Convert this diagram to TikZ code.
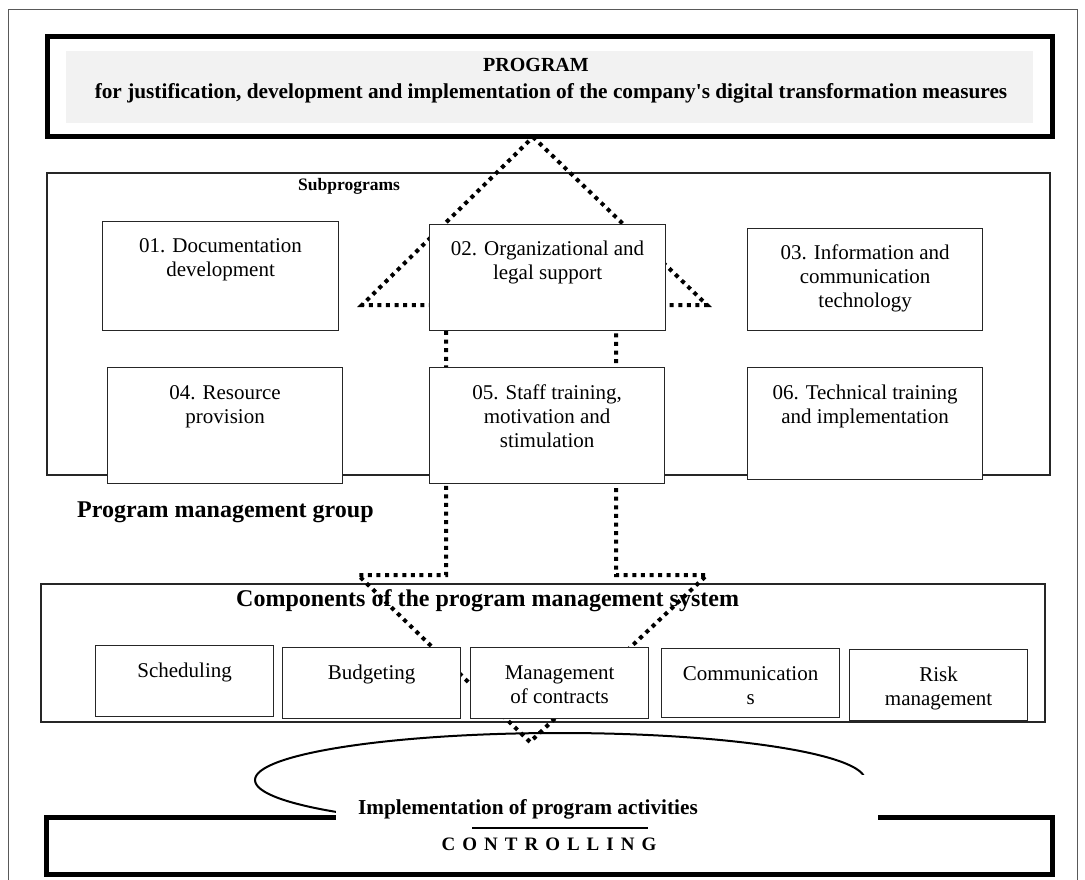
\documentclass[tikz,border=0pt]{standalone}
\usepackage{fontspec}
\setmainfont{Liberation Serif}[Ligatures=TeXOff]
\definecolor{titlegray}{HTML}{F2F2F2}
\begin{document}
\begin{tikzpicture}[x=1pt,y=-1pt,
  frameline/.style={draw=black!65, line width=1pt},
  groupbox/.style={draw=black!85, line width=1.2pt},
  subbox/.style={draw=black!85, line width=1.2pt, fill=white, inner sep=0pt, anchor=north west},
  thickbox/.style={draw=black, line width=5pt},
  dotline/.style={draw=black, line width=4pt, dash pattern=on 4pt off 4.6pt},
  boxtext/.style={align=center, anchor=north, inner sep=0pt, font=\fontsize{21}{24}\selectfont},
  headtext/.style={anchor=base, inner sep=0pt, font=\bfseries\fontsize{24}{28}\selectfont},
]
\useasboundingbox (0,0) rectangle (1085,880);
% outer frame
\draw[frameline] (8,880) -- (8,10) -- (1077,10) -- (1077,880);

% program box
\draw[thickbox] (47,37) rectangle (1052,137);
\fill[titlegray] (66,51) rectangle (1033,123);
\node[anchor=base, inner sep=0pt, font=\bfseries\fontsize{20}{24}\selectfont] (ptitle) at (536,72) {PROGRAM};
\node[anchor=base, inner sep=0pt, font=\bfseries\fontsize{21.3}{24}\selectfont] (psub) at (551,99) {for justification, development and implementation of the company's digital transformation measures};

% group frames
\draw[groupbox] (47,173) rectangle (1050,475);
\draw[groupbox] (41,584) rectangle (1045,722);
\node[anchor=base west, inner sep=0pt, font=\bfseries\fontsize{17.5}{20}\selectfont] (subp) at (298,191) {Subprograms};
\node[headtext, anchor=base west] (pmg) at (77,517) {Program management group};
\node[headtext, anchor=base west] (comp) at (236,606) {Components of the program management system};

% dotted double block arrow
\draw[dotline] (533,137) -- (707,305) -- (616,305) -- (616,575) -- (707,575) -- (530,742)
  -- (358,575) -- (446,575) -- (446,305) -- (362,305) -- cycle;

% subprogram boxes
\node[subbox, minimum width=236pt, minimum height=109pt] (b01) at (102,221) {};
\node[subbox, minimum width=236pt, minimum height=106pt] (b02) at (429,224) {};
\node[subbox, minimum width=235pt, minimum height=102pt] (b03) at (747,228) {};
\node[subbox, minimum width=235pt, minimum height=116pt] (b04) at (107,367) {};
\node[subbox, minimum width=235pt, minimum height=116pt] (b05) at (429,367) {};
\node[subbox, minimum width=235pt, minimum height=112pt] (b06) at (747,367) {};
\node[boxtext] (t01) at ([yshift=-14pt]b01.north) {\strut 01. Documentation\\development};
\node[boxtext] (t02) at ([yshift=-14pt]b02.north) {\strut 02. Organizational and\\legal support};
\node[boxtext] (t03) at ([yshift=-14pt]b03.north) {\strut 03. Information and\\communication\\technology};
\node[boxtext] (t04) at ([yshift=-15pt]b04.north) {\strut 04. Resource\\provision};
\node[boxtext] (t05) at ([yshift=-15pt]b05.north) {\strut 05. Staff training,\\motivation and\\stimulation};
\node[boxtext] (t06) at ([yshift=-15pt]b06.north) {\strut 06. Technical training\\and implementation};

% component boxes
\node[subbox, minimum width=178pt, minimum height=71pt] (c1) at (95,645) {};
\node[subbox, minimum width=178pt, minimum height=71pt] (c2) at (282,647) {};
\node[subbox, minimum width=178pt, minimum height=71pt] (c3) at (470,647) {};
\node[subbox, minimum width=178pt, minimum height=69pt] (c4) at (661,648) {};
\node[subbox, minimum width=178pt, minimum height=71pt] (c5) at (849,649) {};
\node[boxtext] (tc1) at ([yshift=-15pt]c1.north) {\strut Scheduling};
\node[boxtext] (tc2) at ([yshift=-15pt]c2.north) {\strut Budgeting};
\node[boxtext] (tc3) at ([yshift=-15pt]c3.north) {\strut Management\\of contracts};
\node[boxtext] (tc4) at ([yshift=-15pt]c4.north) {\strut Communication\\s};
\node[boxtext] (tc5) at ([yshift=-15pt]c5.north) {\strut Risk\\management};

% controlling box with ellipse callout
\draw[thickbox] (46,817) rectangle (1052,874);
\draw[line width=2pt] (560,780) ellipse [x radius=305pt, y radius=47pt];
\fill[white] (336,775) rectangle (878,834);
\node[anchor=base, inner sep=0pt, font=\bfseries\fontsize{21.3}{25}\selectfont] (impl) at (528,814) {Implementation of program activities};
\draw[line width=1.6pt] (472,828) -- (648,828);
\node[anchor=base, inner sep=0pt, font=\bfseries\fontsize{19}{22}\selectfont] (ctrl) at (549,850) {C\kern7pt O\kern7pt N\kern7pt T\kern7pt R\kern7pt O\kern7pt L\kern7pt L\kern7pt I\kern7pt N\kern7pt G};
\end{tikzpicture}
\end{document}
